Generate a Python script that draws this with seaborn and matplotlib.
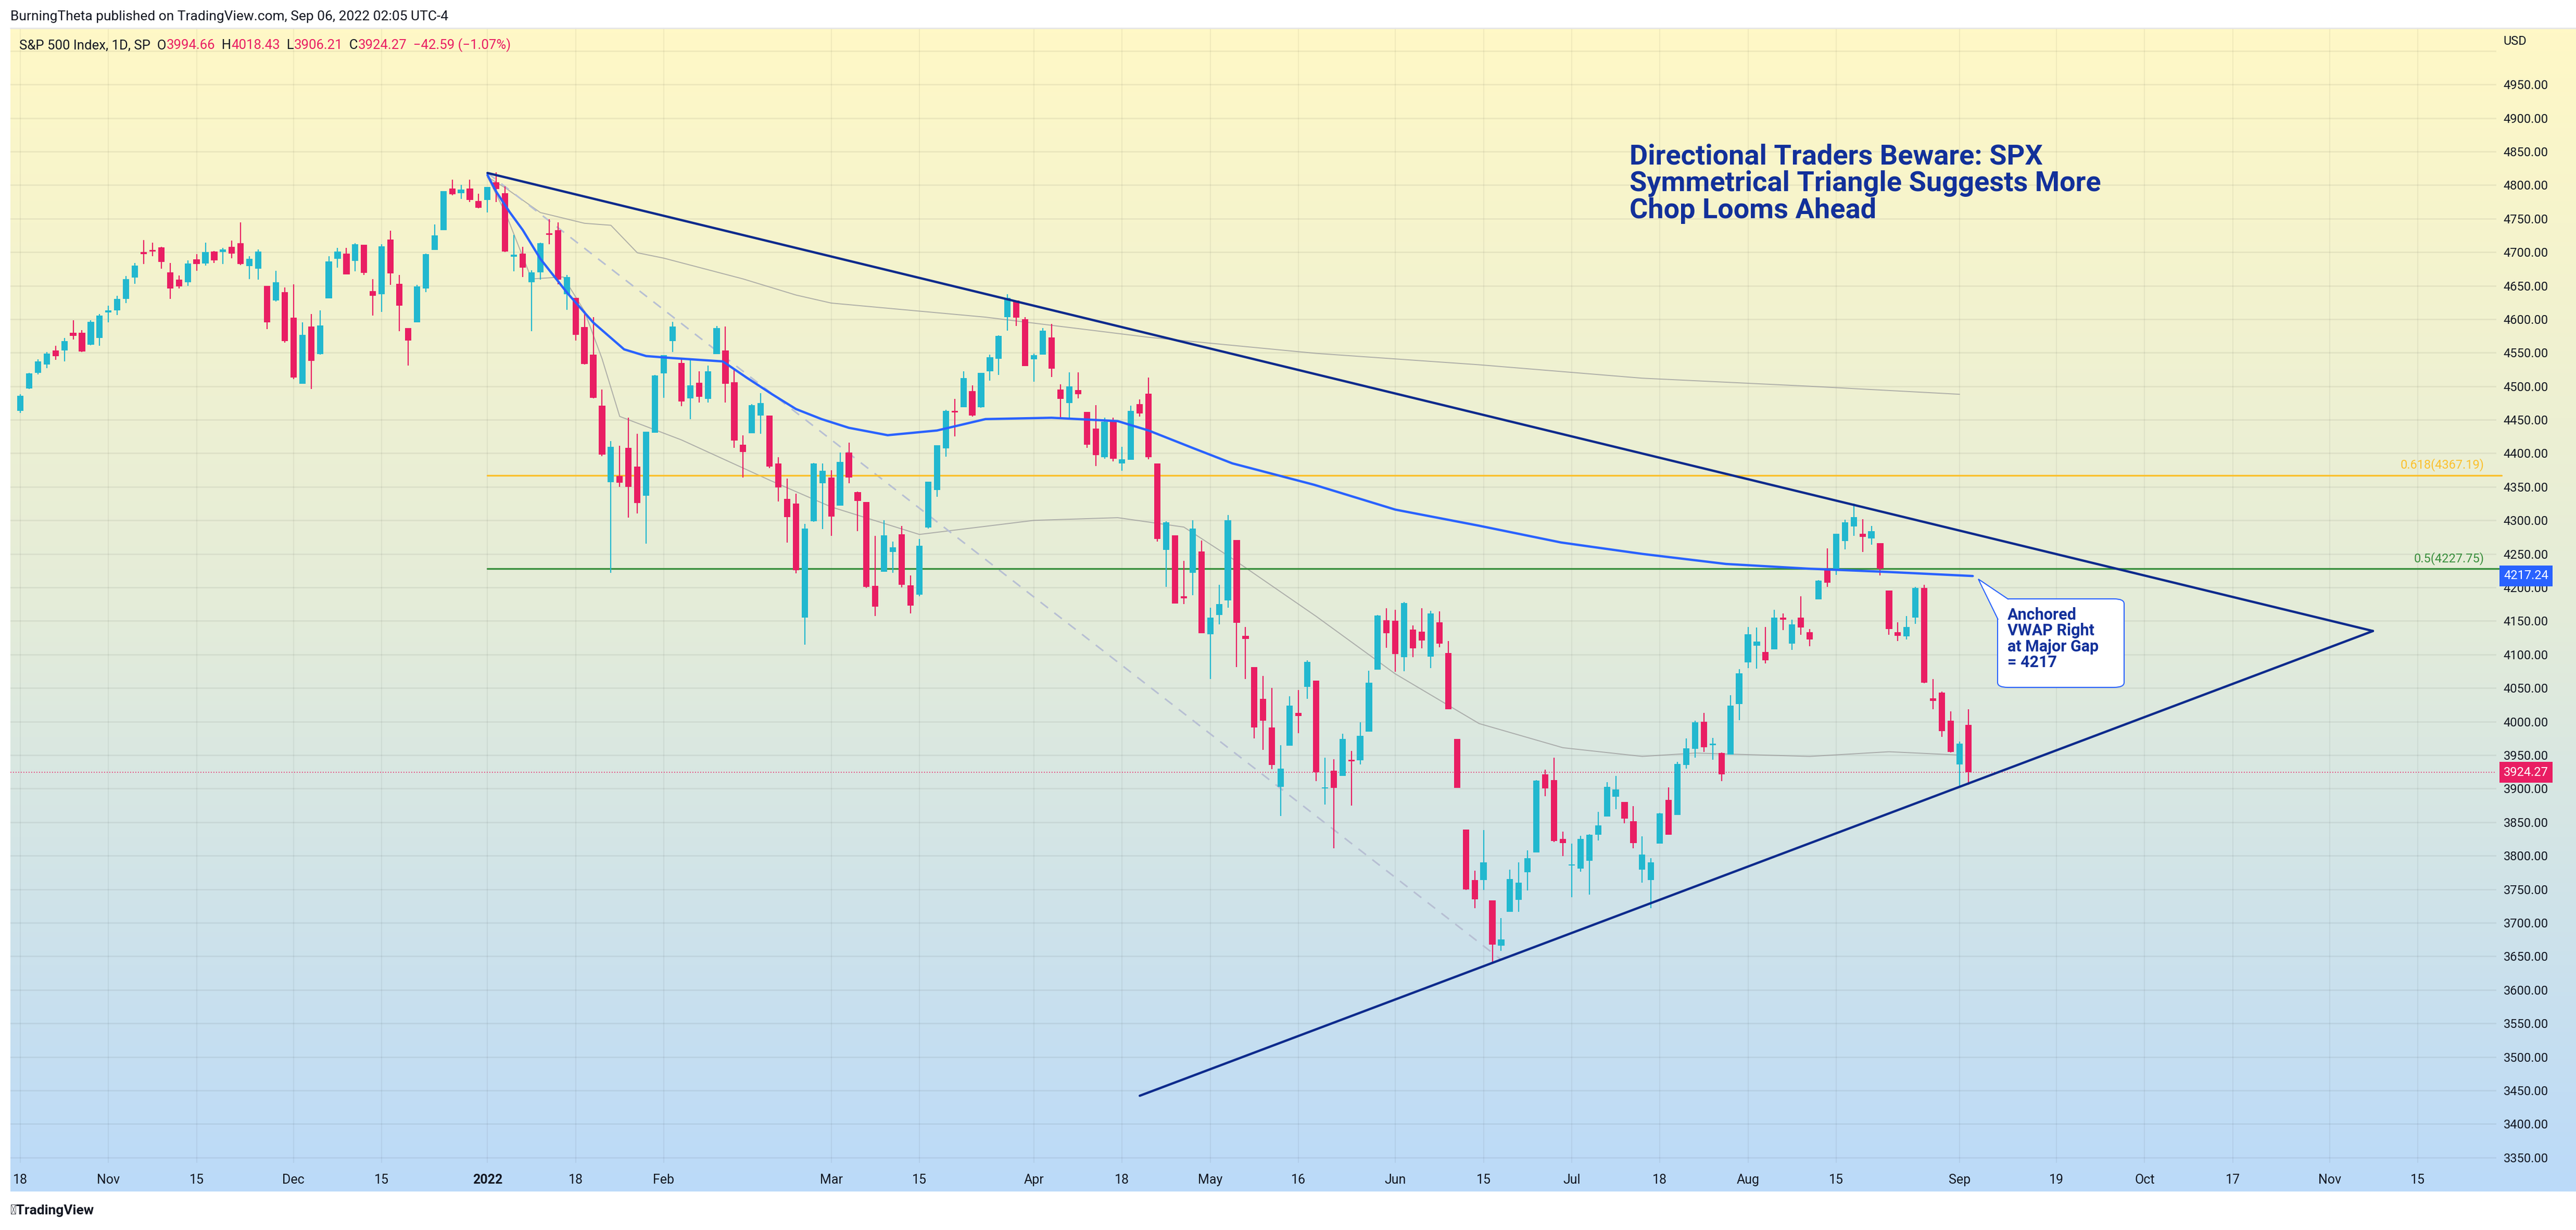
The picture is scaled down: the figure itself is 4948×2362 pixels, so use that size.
import numpy as np
import pandas as pd
import matplotlib
matplotlib.use("Agg")
import matplotlib.pyplot as plt
import seaborn as sns
from matplotlib.patches import FancyBboxPatch, Polygon
from matplotlib.colors import LinearSegmentedColormap
import matplotlib.transforms as mtransforms

# ---- daily OHLC, S&P 500, 18 Oct 2021 .. 2 Sep 2022 (one value per trading day) ----
opens = [4463, 4497, 4520, 4532, 4553, 4553, 4580, 4580, 4562, 4572,
         4610, 4613, 4630, 4662, 4700, 4702, 4707, 4670, 4659, 4655, 4689, 4683, 4701, 4700, 4708, 4713, 4679, 4675, 4650, 4628, 4640,
         4602, 4504, 4589, 4548, 4631, 4690, 4698, 4687, 4711, 4642, 4637, 4719, 4653, 4587, 4595, 4646, 4703, 4733, 4795, 4788, 4795, 4776,
         4778, 4804, 4788, 4693, 4698, 4655, 4670, 4728, 4733, 4637, 4632, 4588, 4547, 4471, 4357, 4366, 4408, 4380, 4337, 4431,
         4519, 4567, 4535, 4482, 4505, 4481, 4548, 4553, 4506, 4413, 4430, 4456, 4456, 4385, 4332, 4325, 4155, 4299, 4355,
         4364, 4322, 4401, 4342, 4327, 4202, 4223, 4253, 4279, 4203, 4189, 4289, 4345, 4407, 4462, 4469, 4493, 4469, 4522, 4541, 4603, 4628, 4600,
         4540, 4547, 4573, 4495, 4475, 4494, 4462, 4437, 4394, 4449, 4385, 4390, 4473, 4489, 4385, 4256, 4278, 4187, 4222, 4254,
         4130, 4159, 4181, 4271, 4128, 4081, 4034, 3991, 3903, 3964, 4013, 4052, 4061, 3900, 3927, 3919, 3943, 3942, 3985, 4077, 4151,
         4150, 4096, 4137, 4134, 4097, 4148, 4102, 3974, 3839, 3764, 3764, 3733, 3666, 3716, 3734, 3775, 3805, 3921, 3913, 3825, 3785,
         3781, 3792, 3831, 3858, 3888, 3880, 3851, 3779, 3764, 3818, 3883, 3861, 3935, 3959, 4000, 3965, 3953, 3951, 4026, 4088,
         4113, 4104, 4108, 4155, 4116, 4155, 4133, 4182, 4227, 4225, 4269, 4291, 4280, 4273, 4266, 4195, 4133, 4127, 4155, 4199, 4035, 4043, 4001,
         3936, 3995]
highs = [4488, 4520, 4540, 4551, 4560, 4572, 4598, 4584, 4598, 4608,
         4620, 4635, 4664, 4684, 4718, 4714, 4708, 4684, 4665, 4688, 4697, 4714, 4702, 4706, 4717, 4744, 4694, 4704, 4650, 4672, 4647,
         4652, 4595, 4608, 4613, 4694, 4706, 4706, 4713, 4711, 4660, 4712, 4732, 4666, 4587, 4651, 4698, 4741, 4791, 4808, 4800, 4808, 4787,
         4797, 4819, 4798, 4726, 4708, 4673, 4714, 4749, 4744, 4666, 4632, 4612, 4603, 4495, 4418, 4411, 4453, 4429, 4432, 4517,
         4546, 4596, 4540, 4540, 4522, 4531, 4590, 4589, 4527, 4427, 4473, 4490, 4456, 4394, 4362, 4340, 4295, 4386, 4385,
         4375, 4401, 4416, 4343, 4327, 4277, 4300, 4268, 4292, 4218, 4272, 4358, 4412, 4465, 4481, 4522, 4501, 4520, 4547, 4576, 4637, 4628, 4603,
         4549, 4587, 4593, 4503, 4521, 4521, 4462, 4472, 4453, 4453, 4410, 4471, 4480, 4513, 4385, 4299, 4278, 4240, 4300, 4270,
         4170, 4204, 4308, 4271, 4141, 4081, 4068, 4050, 3965, 4038, 4047, 4091, 4061, 3946, 3944, 3982, 3956, 3999, 4076, 4159, 4169,
         4167, 4178, 4143, 4169, 4165, 4164, 4120, 3974, 3839, 3778, 3838, 3733, 3707, 3779, 3790, 3808, 3913, 3928, 3946, 3836, 3818,
         3830, 3832, 3865, 3910, 3919, 3880, 3874, 3829, 3796, 3864, 3902, 3940, 3975, 4001, 4013, 3976, 3954, 4039, 4078, 4141,
         4140, 4141, 4167, 4161, 4152, 4187, 4138, 4211, 4258, 4280, 4301, 4325, 4302, 4292, 4266, 4195, 4148, 4157, 4201, 4204, 4063, 4045, 4015,
         3970, 4018]
lows = [4460, 4496, 4518, 4527, 4539, 4537, 4570, 4551, 4561, 4560,
        4595, 4606, 4624, 4653, 4682, 4694, 4675, 4630, 4646, 4650, 4672, 4680, 4684, 4682, 4691, 4681, 4660, 4659, 4585, 4626, 4565,
        4511, 4504, 4496, 4547, 4631, 4677, 4667, 4671, 4666, 4605, 4611, 4651, 4582, 4531, 4595, 4640, 4703, 4733, 4785, 4779, 4775, 4765,
        4759, 4775, 4700, 4671, 4663, 4582, 4659, 4712, 4652, 4614, 4568, 4532, 4482, 4396, 4222, 4350, 4304, 4310, 4265, 4431,
        4483, 4551, 4470, 4451, 4476, 4476, 4548, 4476, 4408, 4364, 4430, 4429, 4378, 4328, 4267, 4221, 4115, 4298, 4287,
        4277, 4322, 4355, 4284, 4199, 4157, 4223, 4222, 4200, 4161, 4187, 4288, 4335, 4395, 4425, 4469, 4455, 4468, 4508, 4517, 4583, 4590, 4530,
        4507, 4547, 4514, 4451, 4450, 4482, 4408, 4381, 4392, 4388, 4374, 4390, 4455, 4391, 4268, 4201, 4176, 4175, 4188, 4132,
        4063, 4145, 4170, 4081, 4063, 3975, 3958, 3929, 3859, 3964, 3983, 4034, 3911, 3876, 3811, 3919, 3875, 3936, 3985, 4077, 4110,
        4074, 4075, 4096, 4109, 4080, 4111, 4018, 3901, 3749, 3722, 3749, 3639, 3658, 3716, 3716, 3748, 3805, 3889, 3820, 3799, 3738,
        3776, 3742, 3823, 3858, 3869, 3848, 3811, 3760, 3722, 3818, 3831, 3861, 3930, 3946, 3955, 3943, 3911, 3951, 4002, 4080,
        4079, 4087, 4108, 4136, 4107, 4129, 4112, 4182, 4201, 4219, 4257, 4277, 4253, 4264, 4218, 4129, 4120, 4122, 4146, 4057, 4018, 3977, 3954,
        3903, 3906]
closes = [4486, 4519, 4537, 4549, 4545, 4567, 4575, 4552, 4596, 4605,
          4613, 4630, 4660, 4680, 4697, 4701, 4685, 4646, 4649, 4683, 4682, 4700, 4688, 4704, 4698, 4682, 4690, 4701, 4595, 4655, 4567,
          4513, 4577, 4538, 4591, 4686, 4701, 4667, 4712, 4669, 4635, 4709, 4668, 4620, 4568, 4649, 4697, 4725, 4791, 4786, 4793, 4778, 4766,
          4797, 4794, 4701, 4696, 4677, 4670, 4713, 4726, 4659, 4663, 4577, 4533, 4483, 4398, 4410, 4356, 4350, 4326, 4432, 4516,
          4546, 4589, 4477, 4501, 4484, 4522, 4587, 4504, 4419, 4402, 4472, 4475, 4380, 4349, 4305, 4226, 4288, 4385, 4374,
          4306, 4387, 4364, 4329, 4201, 4171, 4278, 4260, 4204, 4173, 4262, 4358, 4412, 4463, 4461, 4512, 4456, 4520, 4543, 4575, 4632, 4602, 4530,
          4546, 4583, 4526, 4481, 4500, 4488, 4413, 4397, 4447, 4392, 4391, 4463, 4459, 4394, 4272, 4297, 4176, 4184, 4288, 4132,
          4155, 4175, 4300, 4147, 4123, 3991, 4001, 3935, 3930, 4024, 4008, 4089, 3924, 3901, 3901, 3974, 3941, 3979, 4058, 4158, 4132,
          4101, 4177, 4109, 4121, 4161, 4116, 4018, 3901, 3750, 3735, 3790, 3667, 3675, 3765, 3760, 3796, 3912, 3900, 3822, 3819, 3785,
          3825, 3831, 3845, 3903, 3899, 3855, 3819, 3802, 3790, 3863, 3831, 3937, 3960, 3999, 3962, 3967, 3921, 4024, 4072, 4130,
          4119, 4091, 4155, 4152, 4145, 4140, 4122, 4210, 4207, 4280, 4297, 4305, 4275, 4284, 4228, 4138, 4128, 4141, 4199, 4058, 4031, 3986, 3955,
          3967, 3924.27]

# ---- x axis (trading-day index) tick labels ----
date_tick_pos = [0, 10, 20, 31, 41, 53, 63, 73, 92, 102, 115, 125, 135, 145, 156, 166,
                 176, 186, 196, 206, 220, 231, 241, 251, 262, 272]
date_tick_labels = ["18", "Nov", "15", "Dec", "15", "2022", "18", "Feb", "Mar", "15", "Apr", "18",
                    "May", "16", "Jun", "15", "Jul", "18", "Aug", "15", "Sep", "19", "Oct", "17", "Nov", "15"]
price_ticks = list(range(3350, 5000, 50))

# ---- overlays ----
vwap_x = [53, 54, 55.5, 57, 59, 62, 65, 68.5, 71, 74, 79.7, 82.5, 85.3, 88, 90.9, 94, 98.4, 104, 109.5, 117,
          124.5, 128, 133, 137.5, 146.8, 156, 165.5, 174.8, 184, 193.5, 202.8, 212, 221.5]
vwap_y = [4815, 4790, 4760, 4733, 4690, 4640, 4595, 4555, 4545, 4542, 4537, 4512, 4488, 4466, 4451, 4438, 4427, 4434, 4451, 4453,
          4448, 4434, 4408, 4385, 4353, 4316, 4292, 4267, 4250, 4235, 4228, 4223, 4217]
slow_x = [53, 55, 59, 64, 67, 70, 73, 82, 88, 92, 109.5, 128, 147, 165.5, 184, 203, 220]
slow_y = [4812, 4796, 4759, 4743, 4740, 4699, 4691, 4660, 4636, 4624, 4603, 4573, 4549, 4532, 4512, 4500, 4488]
fast_x = [53, 55, 58, 61.6, 64, 66, 68, 75, 85, 92, 102, 115, 124.5, 132, 137.5, 147, 156,
          165.5, 175, 184, 190, 203, 212, 220]
fast_y = [4812, 4760, 4660, 4663, 4612, 4541, 4455, 4420, 4360, 4320, 4279, 4300, 4304, 4290, 4243, 4157, 4071,
          3997, 3961, 3948, 3953, 3948, 3955, 3950]
upper_trend_x = [53, 266.9]
upper_trend_y = [4818, 4135]
lower_trend_x = [127, 266.9]
lower_trend_y = [3442, 4135]
dash_trend_x = [53, 168]
dash_trend_y = [4818, 3645]
fib_618 = 4367.19
fib_500 = 4227.75
fib_start = 53
vwap_last = 4217.24
last_close = 3924.27

# ---- figure geometry (pixels) ----
W, H = 4948, 2362
DPI = 100
UP = "#22b8cf"
DOWN = "#e91e63"
NAVY = "#0d2a8c"
TEXT = "#131722"

sns.set_style("white")
plt.rcParams["font.family"] = "Roboto"

fig = plt.figure(figsize=(W / DPI, H / DPI), dpi=DPI)
fig.patch.set_facecolor("white")


def fx(px):
    return px / W


def fy(py):
    return 1 - py / H


# gradient background panel
bg = fig.add_axes([fx(20), fy(2288), fx(4948 - 20), (2288 - 54) / H])
cmap = LinearSegmentedColormap.from_list("bg", ["#fff8c6", "#e4ecd9", "#bbdaf9"])
bg.imshow(np.linspace(0, 1, 256).reshape(-1, 1), aspect="auto", cmap=cmap, extent=[0, 1, 0, 1])
bg.set_axis_off()
fig.add_artist(plt.Line2D([fx(20), 1], [fy(54), fy(54)], color="#e6e6e6", lw=2))

ax = fig.add_axes([fx(20), fy(2233), fx(4795 - 20), (2233 - 54) / H])
ax.set_facecolor("none")
ax.set_xlim(-1.12, 280.9)
ax.set_ylim(3342, 5034)

idx = np.arange(len(closes))
df = pd.DataFrame({"i": idx, "o": opens, "h": highs, "l": lows, "c": closes})
df["col"] = np.where(df["c"] >= df["o"], UP, DOWN)

# grid
for p in price_ticks + [5000]:
    ax.axhline(p, color="#000000", alpha=0.06, lw=2, zorder=0)
for p in date_tick_pos:
    ax.axvline(p, color="#000000", alpha=0.05, lw=1.5, zorder=0)

# candles
ax.vlines(df["i"], df["l"], df["h"], colors=df["col"], lw=1.6, zorder=3)
body_h = np.maximum((df["c"] - df["o"]).abs(), 2)
ax.bar(df["i"], body_h, bottom=np.minimum(df["o"], df["c"]), width=0.72,
       color=df["col"], zorder=4, linewidth=0)

# moving lines
sns.lineplot(x=slow_x, y=slow_y, ax=ax, color="#9e9e9e", lw=1.4, alpha=0.8, zorder=2)
sns.lineplot(x=fast_x, y=fast_y, ax=ax, color="#9e9e9e", lw=1.4, alpha=0.8, zorder=2)
sns.lineplot(x=vwap_x, y=vwap_y, ax=ax, color="#2962ff", lw=3.2, zorder=5)
ax.plot(dash_trend_x, dash_trend_y, color="#b7bfd3", lw=2.2, ls=(0, (6, 5)), zorder=2)

# fib levels
ax.plot([fib_start, 281.5], [fib_618, fib_618], color="#fbc02d", lw=2.4, zorder=2, clip_on=False)
ax.plot([fib_start, 281.5], [fib_500, fib_500], color="#388e3c", lw=2.4, zorder=2, clip_on=False)
ax.text(279.5, fib_618 + 6, "0.618(4367.19)", color="#fbc02d", ha="right", va="bottom", fontsize=17)
ax.text(279.5, fib_500 + 6, "0.5(4227.75)", color="#388e3c", ha="right", va="bottom", fontsize=17)

# triangle
ax.plot(upper_trend_x, upper_trend_y, color=NAVY, lw=3.2, zorder=6)
ax.plot(lower_trend_x, lower_trend_y, color=NAVY, lw=3.2, zorder=6)

# last close dotted line
ax.axhline(last_close, color=DOWN, lw=1.2, ls=(0, (1, 2)), zorder=2)

# axes styling
for s in ax.spines.values():
    s.set_visible(False)
ax.yaxis.tick_right()
ax.set_yticks(price_ticks)
ax.set_yticklabels([f"{p:.2f}" for p in price_ticks], fontsize=17, color=TEXT)
ax.set_xticks(date_tick_pos)
ax.set_xticklabels(date_tick_labels, fontsize=18, color=TEXT)
ax.get_xticklabels()[5].set_fontweight("bold")
ax.tick_params(axis="x", length=0, pad=15)
ax.tick_params(axis="y", length=0, pad=10)
ax.set_xlabel("")
ax.set_ylabel("")

# price tags
tr = mtransforms.blended_transform_factory(ax.transAxes, ax.transData)
ax.text(1 + 14 / 4775, vwap_last, f"{vwap_last:.2f}", transform=tr, color="white", fontsize=17,
        va="center", ha="left", zorder=10,
        bbox=dict(boxstyle="square,pad=0.35", fc="#2962ff", ec="none"))
ax.text(1 + 14 / 4775, last_close, f"{last_close:.2f}", transform=tr, color="white", fontsize=17,
        va="center", ha="left", zorder=10,
        bbox=dict(boxstyle="square,pad=0.35", fc=DOWN, ec="none"))
fig.text(fx(4808), fy(80), "USD", fontsize=17, color=TEXT, va="center")

# headline
fig.text(fx(3130), fy(275), "Directional Traders Beware: SPX\nSymmetrical Triangle Suggests More\nChop Looms Ahead",
         fontsize=39, fontweight="bold", color="#12309a", va="top", ha="left", linespacing=1.02)

# callout
box = FancyBboxPatch((fx(3837), fy(1320)), fx(4080 - 3837), (1320 - 1150) / H,
                     boxstyle="round,pad=0,rounding_size=0.004", transform=fig.transFigure,
                     fc="white", ec="#2962ff", lw=1.5, zorder=20)
fig.add_artist(box)
ptr = Polygon([(fx(3838), fy(1190)), (fx(3800), fy(1112)), (fx(3858), fy(1151))],
              closed=False, transform=fig.transFigure, fc="white", ec="#2962ff", lw=1.5, zorder=21)
fig.add_artist(ptr)
fig.add_artist(Polygon([(fx(3839), fy(1188)), (fx(3804), fy(1118)), (fx(3856), fy(1152))],
                       closed=True, transform=fig.transFigure, fc="white", ec="none", zorder=22))
fig.text(fx(3856), fy(1166), "Anchored\nVWAP Right\nat Major Gap\n= 4217", fontsize=22,
         fontweight="bold", color="#12309a", va="top", ha="left", linespacing=1.02, zorder=23)

# header texts
fig.text(fx(20), fy(32), "BurningTheta published on TradingView.com, Sep 06, 2022 02:05 UTC-4",
         fontsize=19, color=TEXT, va="center")
x0 = 37
parts = [("S&P 500 Index, 1D, SP  O", TEXT), ("3994.66", DOWN), ("  H", TEXT), ("4018.43", DOWN),
         ("  L", TEXT), ("3906.21", DOWN), ("  C", TEXT), ("3924.27", DOWN), ("  \u221242.59 (\u22121.07%)", DOWN)]
renderer = fig.canvas.get_renderer()
for txt, col in parts:
    t = fig.text(fx(x0), fy(87), txt, fontsize=18.5, color=col, va="center")
    x0 += t.get_window_extent(renderer=renderer).width

fig.text(fx(20), fy(2325), "\u25a0TradingView", fontsize=19, color=TEXT, va="center", fontweight="bold")

fig.savefig("out.png", dpi=DPI)
